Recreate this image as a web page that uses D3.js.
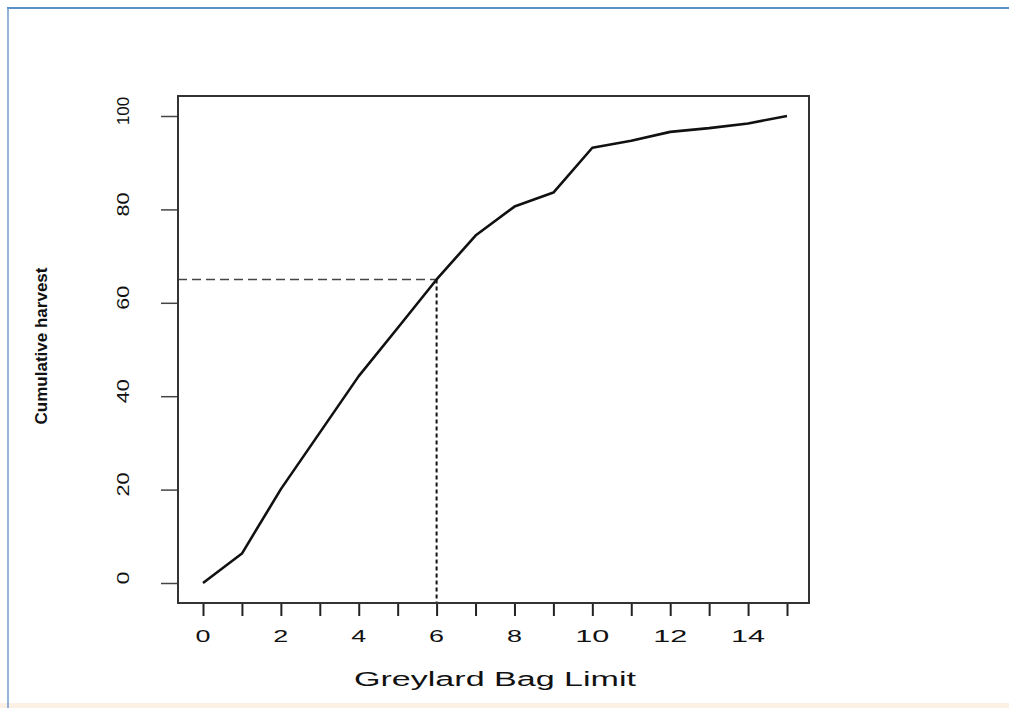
<!DOCTYPE html>
<html>
<head>
<meta charset="utf-8">
<script src="https://cdn.jsdelivr.net/npm/d3@7"></script>
<style>
  html, body { margin: 0; padding: 0; background: #fff; }
  svg { display: block; }
  text { font-family: "Liberation Sans", Arial, sans-serif; fill: #111; }
</style>
</head>
<body>
<svg id="chart" width="1009" height="708"></svg>
<script>
// bag limit on the x axis, cumulative harvest (%) on the y axis
var bagLimits = [0, 1, 2, 3, 4, 5, 6, 7, 8, 9, 10, 11, 12, 13, 14, 15];
var harvest = [0, 6.3, 20.1, 32.2, 44.3, 54.6, 65, 74.4, 80.6, 83.6, 93.2, 94.7, 96.6, 97.4, 98.4, 100];
var xTicks = [0, 1, 2, 3, 4, 5, 6, 7, 8, 9, 10, 11, 12, 13, 14, 15];
var xLabels = [0, 2, 4, 6, 8, 10, 12, 14];
var yTicks = [0, 20, 40, 60, 80, 100];
var markX = 6, markY = 65;

var svg = d3.select("#chart");

// box of the plot
var box = {left: 178, right: 809, top: 96, bottom: 603};

var x = d3.scaleLinear().domain([0, 15]).range([203, 787]);
var y = d3.scaleLinear().domain([0, 100]).range([583, 116]);

// outer frame like the page it was cut from
svg.append("rect").attr("x", 0).attr("y", 703).attr("width", 1009).attr("height", 5).attr("fill", "#fcefe3");
svg.append("line").attr("x1", 7).attr("x2", 1009).attr("y1", 8).attr("y2", 8)
   .attr("stroke", "#5d8fc8").attr("stroke-width", 2);
svg.append("line").attr("x1", 8).attr("x2", 8).attr("y1", 8).attr("y2", 708)
   .attr("stroke", "#6f9bcf").attr("stroke-width", 1.5);

// axes
var xAxis = d3.axisBottom(x).tickValues(xTicks).tickSize(12).tickFormat("");
svg.append("g").attr("transform", "translate(0," + (box.bottom + 1) + ")")
   .call(xAxis)
   .call(function(g){
     g.select(".domain").remove();
     g.selectAll(".tick line").attr("stroke", "#222").attr("stroke-width", 2);
   });

var yAxis = d3.axisLeft(y).tickValues(yTicks).tickSize(17).tickFormat("");
svg.append("g").attr("transform", "translate(" + box.left + ",0)")
   .call(yAxis)
   .call(function(g){
     g.select(".domain").remove();
     g.selectAll(".tick line").attr("stroke", "#444").attr("stroke-width", 1.5);
   });

// x tick labels, wide lettering
svg.append("g").selectAll("text")
   .data(xLabels)
   .enter().append("text")
   .attr("x", function(d){ return x(d); })
   .attr("y", 642)
   .attr("text-anchor", "middle")
   .attr("font-size", 17)
   .attr("textLength", function(d){ return d < 10 ? 15 : 34; })
   .attr("lengthAdjust", "spacingAndGlyphs")
   .text(function(d){ return d; });

// y tick labels, rotated and squeezed
svg.append("g").selectAll("text")
   .data(yTicks)
   .enter().append("text")
   .attr("transform", function(d){ return "translate(129," + (y(d) - 5) + ") rotate(-90)"; })
   .attr("text-anchor", "middle")
   .attr("font-size", 17)
   .attr("textLength", function(d){ return d === 0 ? 13 : (d === 100 ? 28 : 24); })
   .attr("lengthAdjust", "spacingAndGlyphs")
   .text(function(d){ return d; });

// titles
svg.append("text")
   .attr("x", 495).attr("y", 686)
   .attr("text-anchor", "middle")
   .attr("font-size", 20)
   .attr("textLength", 282)
   .attr("lengthAdjust", "spacingAndGlyphs")
   .text("Greylard Bag Limit");

svg.append("text")
   .attr("transform", "translate(47,346) rotate(-90)")
   .attr("text-anchor", "middle")
   .attr("font-size", 17)
   .attr("font-weight", "bold")
   .attr("textLength", 157)
   .attr("lengthAdjust", "spacingAndGlyphs")
   .text("Cumulative harvest");

// reference lines at the chosen limit
svg.append("line")
   .attr("x1", box.left).attr("x2", x(markX))
   .attr("y1", y(markY)).attr("y2", y(markY))
   .attr("stroke", "#444").attr("stroke-width", 1.6)
   .attr("stroke-dasharray", "9,5");
svg.append("line")
   .attr("x1", x(markX)).attr("x2", x(markX))
   .attr("y1", y(markY)).attr("y2", box.bottom)
   .attr("stroke", "#111").attr("stroke-width", 2)
   .attr("stroke-dasharray", "4,3");

// the curve
var line = d3.line()
   .x(function(d, i){ return x(bagLimits[i]); })
   .y(function(d){ return y(d); });

svg.append("path")
   .datum(harvest)
   .attr("d", line)
   .attr("fill", "none")
   .attr("stroke", "#111")
   .attr("stroke-width", 2.6)
   .attr("stroke-linejoin", "round");

// plot box
svg.append("rect")
   .attr("x", box.left).attr("y", box.top)
   .attr("width", box.right - box.left).attr("height", box.bottom - box.top)
   .attr("fill", "none").attr("stroke", "#333").attr("stroke-width", 2);
</script>
</body>
</html>
